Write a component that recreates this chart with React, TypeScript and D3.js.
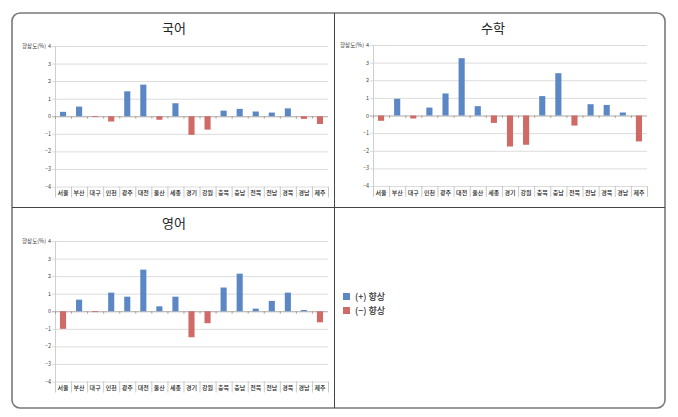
import React from "react";
import * as d3 from "d3";

const regions = ["서울", "부산", "대구", "인천", "광주", "대전", "울산", "세종", "경기", "강원", "충북", "충남", "전북", "전남", "경북", "경남", "제주"];
const koreanValues = [0.25, 0.55, -0.03, -0.3, 1.42, 1.8, -0.2, 0.74, -1.06, -0.76, 0.32, 0.42, 0.27, 0.21, 0.45, -0.15, -0.44];
const mathValues = [-0.3, 0.95, -0.17, 0.45, 1.25, 3.25, 0.53, -0.42, -1.76, -1.66, 1.1, 2.4, -0.57, 0.64, 0.6, 0.17, -1.47];
const englishValues = [-1.0, 0.66, -0.05, 1.06, 0.83, 2.37, 0.28, 0.83, -1.48, -0.68, 1.35, 2.14, 0.15, 0.59, 1.06, 0.07, -0.63];
const yTicks = [-4, -3, -2, -1, 0, 1, 2, 3, 4];
const subjects = ["국어", "수학", "영어"];
const legendLabels = ["(+) 향상", "(−) 향상"];
const yAxisLabel = "향상도(%)";

const BLUE = "#5b87c4";
const RED = "#cf6a67";
const FONT = "'Noto Sans CJK KR', 'Noto Sans', sans-serif";

type PanelProps = { title: string; values: number[]; x0: number; x1: number; yTop: number; yBot: number; tx: number; ty: number };

function Panel({ title, values, x0, x1, yTop, yBot, tx, ty }: PanelProps) {
  const x = d3.scaleBand<string>().domain(regions).range([x0, x1]).paddingInner(0.62).paddingOuter(0.31);
  const xb = d3.scaleBand<string>().domain(regions).range([x0, x1]);
  const y = d3.scaleLinear().domain([-4, 4]).range([yBot, yTop]);
  const y0 = y(0);
  return (
    <g>
      <text x={tx} y={ty} textAnchor="middle" fontSize={13} fill="#222" fontFamily={FONT}>{title}</text>
      {yTicks.map((t) => (
        <g key={t}>
          <line x1={x0 - 3} x2={x1} y1={y(t) + 0.5} y2={y(t) + 0.5} stroke={t === 0 ? "#a9a9a9" : "#dcdcdc"} strokeWidth={1} />
          <text x={x0 - 4} y={y(t) + 2} textAnchor="end" fontSize={5.5} fill="#444" fontFamily={FONT}>{t < 0 ? "−" + Math.abs(t) : String(t)}</text>
        </g>
      ))}
      <text x={x0 - 9} y={y(4) + 2} textAnchor="end" fontSize={5.5} fill="#333" fontFamily={FONT}>{yAxisLabel}</text>
      <line x1={x0 + 0.5} x2={x0 + 0.5} y1={yTop} y2={yBot} stroke="#cfcfcf" />
      {regions.map((r) => (
        <g key={r}>
          <line x1={(xb(r) as number) + 0.5} x2={(xb(r) as number) + 0.5} y1={y0} y2={y0 + 2.5} stroke="#b08a6a" strokeWidth={0.8} />
          <line x1={(xb(r) as number) + 0.5} x2={(xb(r) as number) + 0.5} y1={yBot} y2={yBot + 11} stroke="#bbb" strokeWidth={0.8} />
          <text x={(xb(r) as number) + xb.bandwidth() / 2} y={yBot + 8.5} textAnchor="middle" fontSize={6} fontWeight={500} fill="#222" fontFamily={FONT}>{r}</text>
        </g>
      ))}
      <line x1={x1 + 0.5} x2={x1 + 0.5} y1={yBot} y2={yBot + 11} stroke="#bbb" strokeWidth={0.8} />
      {values.map((v, i) => {
        const r = regions[i];
        const top = Math.min(y(v), y0);
        const h = Math.max(Math.abs(y(v) - y0), 0.8);
        return <rect key={r} x={x(r)} y={top} width={x.bandwidth()} height={h} fill={v >= 0 ? BLUE : RED} />;
      })}
    </g>
  );
}

export default function App() {
  return (
    <svg width={678} height={417} style={{ position: "absolute", left: 0, top: 0, background: "#fff" }}>
      <rect x={12} y={13} width={653} height={395} rx={8} ry={8} fill="#fff" stroke="#7a7a7a" strokeWidth={1.6} />
      <line x1={334.5} x2={334.5} y1={13} y2={408} stroke="#444" strokeWidth={1} />
      <line x1={12} x2={665} y1={207.5} y2={207.5} stroke="#444" strokeWidth={1} />
      <Panel title={subjects[0]} values={koreanValues} x0={55} x1={328} yTop={46} yBot={186.5} tx={174} ty={33} />
      <Panel title={subjects[1]} values={mathValues} x0={373} x1={647} yTop={45} yBot={186} tx={493} ty={33} />
      <Panel title={subjects[2]} values={englishValues} x0={55} x1={328} yTop={241} yBot={381.5} tx={174} ty={228} />
      {legendLabels.map((l, i) => (
        <g key={l}>
          <rect x={343} y={293 + i * 14} width={7} height={7} fill={i === 0 ? BLUE : RED} />
          <text x={355} y={300 + i * 14} fontSize={9} fontWeight={500} fill="#333" fontFamily={FONT}>{l}</text>
        </g>
      ))}
    </svg>
  );
}
